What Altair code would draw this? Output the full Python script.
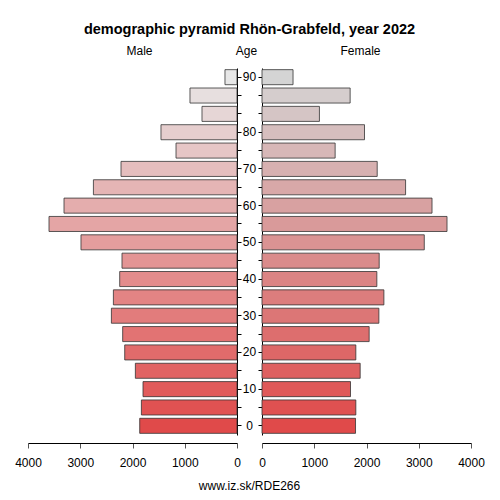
import altair as alt
import pandas as pd

# ---- data ----
idx = list(range(20))  # 5-year age groups, bottom (0) to top
age_labels = ["0", "", "10", "", "20", "", "30", "", "40", "", "50", "", "60", "", "70", "", "80", "", "", "90"]
male = [1862, 1830, 1799, 1945, 2149, 2188, 2404, 2366, 2245, 2201,
        2986, 3598, 3311, 2748, 2220, 1167, 1455, 670, 900, 230]
female = [1790, 1796, 1694, 1879, 1796, 2051, 2237, 2333, 2198, 2243,
          3106, 3541, 3254, 2748, 2205, 1400, 1962, 1099, 1687, 594]
x_ticks = [0, 1000, 2000, 3000, 4000]

title = "demographic pyramid Rhön-Grabfeld, year 2022"
footer = "www.iz.sk/RDE266"


def ramp(c0, c1, n):
    out = []
    for i in range(n):
        t = i / (n - 1)
        rgb = [round(a + (b - a) * t) for a, b in zip(c0, c1)]
        out.append("#%02x%02x%02x" % tuple(rgb))
    return out


male_colors = ramp((224, 74, 74), (231, 231, 231), len(idx))
female_colors = ramp((224, 74, 74), (212, 212, 212), len(idx))

df = pd.DataFrame({"idx": idx, "label": age_labels, "male": male, "female": female})

FONT = "Liberation Sans"
W, H, MID = 209, 367, 25


def yscale():
    return alt.Scale(domain=idx[::-1], paddingInner=0.18, paddingOuter=0.09)


def xaxis():
    return alt.Axis(values=x_ticks, format="d", title=None, grid=False, offset=8, tickSize=5,
                    labelPadding=9, labelFlush=False, labelOverlap=False,
                    domainColor="#000", tickColor="#555", labelFontSize=12,
                    labelColor="#000")


def header(text, dx):
    return alt.TitleParams(text, fontSize=12, fontWeight="normal", dx=dx, offset=10,
                           color="#000", font=FONT)


left = alt.Chart(df).mark_bar(stroke="#333", strokeWidth=0.8).encode(
    x=alt.X("male:Q", scale=alt.Scale(domain=[0, 4000], reverse=True, nice=False), axis=xaxis()),
    y=alt.Y("idx:O", scale=yscale(),
            axis=alt.Axis(orient="right", labels=False, title=None, tickSize=4,
                          domainColor="#000", tickColor="#000")),
    color=alt.Color("idx:O", scale=alt.Scale(domain=idx, range=male_colors), legend=None),
).properties(width=W, height=H, title=header("Male", 7))

right = alt.Chart(df).mark_bar(stroke="#333", strokeWidth=0.8).encode(
    x=alt.X("female:Q", scale=alt.Scale(domain=[0, 4000], nice=False), axis=xaxis()),
    y=alt.Y("idx:O", scale=yscale(),
            axis=alt.Axis(orient="left", labels=False, title=None, tickSize=4,
                          domainColor="#000", tickColor="#000")),
    color=alt.Color("idx:O", scale=alt.Scale(domain=idx, range=female_colors), legend=None),
).properties(width=W, height=H, title=header("Female", -6))

mid_labels = alt.Chart(df).mark_text(fontSize=12, font=FONT, color="#000").encode(
    x=alt.value(MID / 2),
    y=alt.Y("idx:O", scale=yscale(), axis=None),
    text="label:N",
)
mid_footer = alt.Chart(pd.DataFrame({"t": [footer]})).mark_text(
    fontSize=12, font=FONT, color="#000").encode(
    x=alt.value(MID / 2), y=alt.value(418), text="t:N")

middle = alt.layer(mid_labels, mid_footer).properties(
    width=MID, height=H, title=header("Age", -3))

chart = alt.hconcat(left, middle, right, spacing=0, bounds="flush").resolve_scale(
    x="independent", y="independent", color="independent"
).properties(
    title=alt.TitleParams(title, fontSize=14.5, fontWeight="bold", font=FONT, anchor="middle",
                          offset=8, color="#000"),
    padding={"left": 6, "top": 13, "right": 5, "bottom": 5},
).configure(font=FONT).configure_view(stroke=None)

chart.save("out.html", embed_options={"renderer": "svg", "actions": False})
